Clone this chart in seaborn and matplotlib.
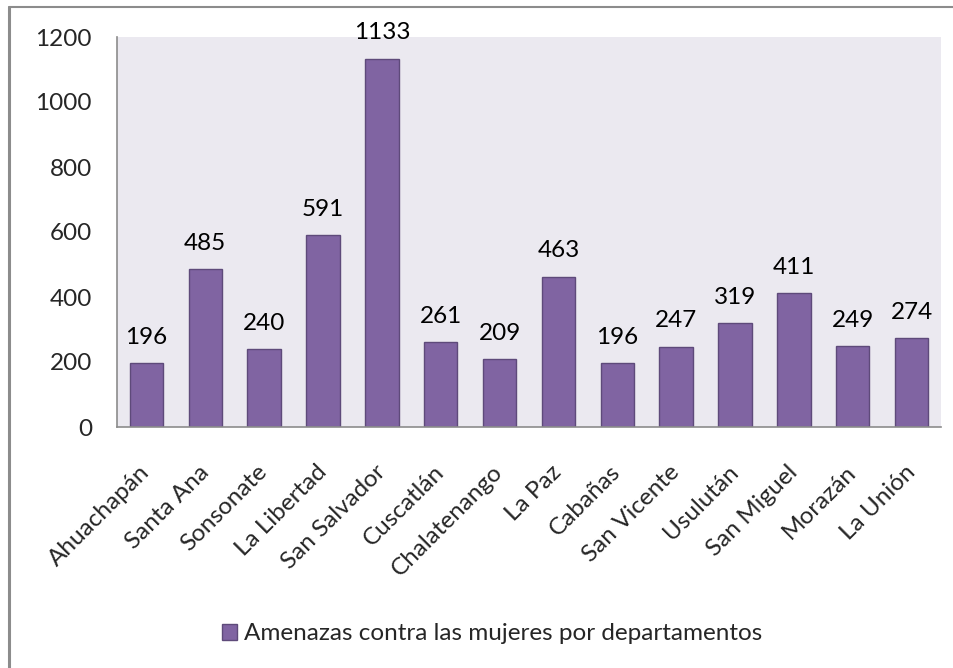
import matplotlib
matplotlib.use("Agg")
import matplotlib.pyplot as plt
import seaborn as sns
import pandas as pd
from matplotlib.lines import Line2D

departamentos = ["Ahuachapán", "Santa Ana", "Sonsonate", "La Libertad", "San Salvador",
                 "Cuscatlán", "Chalatenango", "La Paz", "Cabañas", "San Vicente",
                 "Usulután", "San Miguel", "Morazán", "La Unión"]
amenazas = [196, 485, 240, 591, 1133, 261, 209, 463, 196, 247, 319, 411, 249, 274]
serie = "Amenazas contra las mujeres por departamentos"

df = pd.DataFrame({"departamento": departamentos, "amenazas": amenazas})

sns.set_style("white")
plt.rcParams["font.family"] = ["Lato", "DejaVu Sans"]
fs = 17.5

fig = plt.figure(figsize=(9.54, 6.68), dpi=100)
ax = fig.add_axes([117 / 954, 1 - 427 / 668, (941 - 117) / 954, (427 - 37) / 668])
ax.set_facecolor("#ebe9f0")

sns.barplot(data=df, x="departamento", y="amenazas", color="#8064a2", width=0.57,
            edgecolor="#5e4a7a", linewidth=1, saturation=1, ax=ax, label=serie)

for i, v in enumerate(amenazas):
    ax.annotate(str(v), (i, v), xytext=(0, 11), textcoords="offset points",
                ha="center", va="bottom", fontsize=fs, color="black")

ax.set_ylim(0, 1200)
ax.set_yticks(range(0, 1201, 200))
ax.set_xlim(-0.5, len(departamentos) - 0.5)
ax.set_xlabel("")
ax.set_ylabel("")
ax.tick_params(axis="y", length=0, labelsize=fs, pad=18)
ax.tick_params(axis="x", length=0, labelsize=fs, pad=30)
for lbl in ax.get_xticklabels():
    lbl.set_rotation(45)
    lbl.set_ha("right")
    lbl.set_va("center")
    lbl.set_rotation_mode("anchor")

for s in ["top", "right"]:
    ax.spines[s].set_visible(False)
for s in ["left", "bottom"]:
    ax.spines[s].set_color("#8c8c8c")
    ax.spines[s].set_linewidth(1.2)

leg = ax.legend(loc="center", bbox_to_anchor=(492 / 954, 1 - 634 / 668), bbox_transform=fig.transFigure,
                frameon=False, fontsize=fs, handlelength=0.6, handleheight=0.6, handletextpad=0.3)

# outer chart border (left and top)
fig.add_artist(Line2D([9 / 954, 9 / 954], [0, 1 - 7 / 668], color="#8c8c8c", lw=2.2))
fig.add_artist(Line2D([9 / 954, 1], [1 - 7 / 668, 1 - 7 / 668], color="#8c8c8c", lw=1.5))

fig.savefig("out.png", dpi=100)
